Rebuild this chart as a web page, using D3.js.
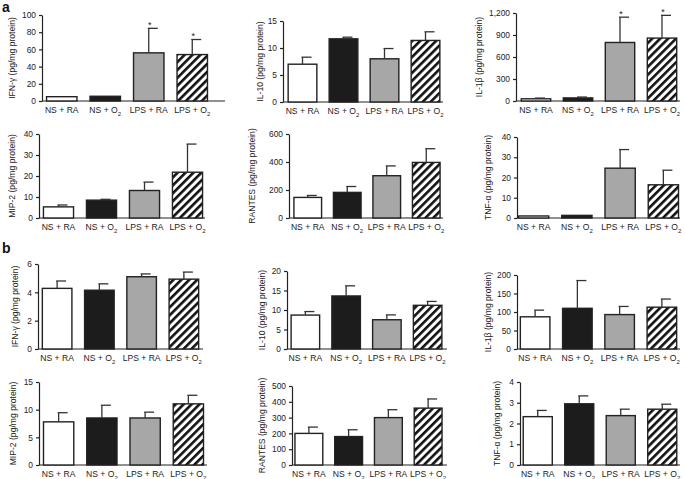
<!DOCTYPE html>
<html><head><meta charset="utf-8">
<script src="https://cdn.jsdelivr.net/npm/d3@7"></script>
<style>
body{margin:0;background:#fff}
svg{display:block;font-family:"Liberation Sans",Arial,Helvetica,sans-serif}
</style>
</head><body>
<svg id="c" width="685" height="479"></svg>
<script>
// ---------- DATA ----------
const categories = ["NS + RA", "NS + O2", "LPS + RA", "LPS + O2"];
const sectionLetters = ["a", "b"];

// Section a
const aIFNg = [5, 5.5, 56, 54];          const aIFNgErr = [0, 0, 28.5, 17.5];
const aIL10 = [7.0, 11.7, 8.0, 11.4];    const aIL10Err = [1.3, 0.3, 1.9, 1.6];
const aIL1b = [30, 42, 798, 858];        const aIL1bErr = [10, 12, 345, 310];
const aMIP2 = [5.3, 8.5, 13.1, 21.8];    const aMIP2Err = [0.9, 0.4, 4.0, 13.4];
const aRANTES = [147, 183, 302, 397];    const aRANTESErr = [14, 42, 70, 98];
const aTNFa = [1.0, 1.3, 24.6, 16.4];    const aTNFaErr = [0, 0, 9.2, 7.2];
// Section b
const bIFNg = [4.28, 4.15, 5.1, 4.93];   const bIFNgErr = [0.52, 0.45, 0.2, 0.5];
const bIL10 = [8.7, 13.6, 7.5, 11.2];    const bIL10Err = [0.9, 2.6, 1.25, 1.0];
const bIL1b = [87, 110, 93, 113];        const bIL1bErr = [18, 75, 22, 22];
const bMIP2 = [7.8, 8.5, 8.5, 11.05];    const bMIP2Err = [1.65, 2.3, 1.05, 1.55];
const bRANTES = [200, 180, 300, 360];    const bRANTESErr = [40, 43, 50, 58];
const bTNFa = [2.33, 2.95, 2.38, 2.69];  const bTNFaErr = [0.3, 0.38, 0.31, 0.24];

// Axis tick values
const ticksIFNgA = [0, 20, 40, 60, 80, 100];
const ticksIL10A = [0, 5, 10, 15];
const ticksIL1bA = [0, 300, 600, 900, 1200];
const ticksMIP2A = [0, 10, 20, 30, 40];
const ticksRANTESA = [0, 200, 400, 600];
const ticksTNFaA = [0, 10, 20, 30, 40];
const ticksIFNgB = [0, 2, 4, 6];
const ticksIL10B = [0, 5, 10, 15, 20];
const ticksIL1bB = [0, 50, 100, 150, 200];
const ticksMIP2B = [0, 5, 10, 15];
const ticksRANTESB = [0, 100, 200, 300, 400, 500];
const ticksTNFaB = [0, 1, 2, 3, 4];

// Significance markers
const starsIFNgA = [0, 0, 1, 1];
const starsIL1bA = [0, 0, 1, 1];
const noStars = [0, 0, 0, 0];

// Axis titles
const labelIFNg = "IFN-γ (pg/mg protein)";
const labelIL10 = "IL-10 (pg/mg protein)";
const labelIL1b = "IL-1β (pg/mg protein)";
const labelMIP2 = "MIP-2 (pg/mg protein)";
const labelRANTES = "RANTES (pg/mg protein)";
const labelTNFa = "TNF-α (pg/mg protein)";

// ---------- LAYOUT (positions only) ----------
const layouts = [
  {ax: 42,  top: 15,  base: 101, band: [40, 214],  xEnd: 225, lx: 12},
  {ax: 283, top: 21,  base: 102, band: [282, 446], xEnd: 443, lx: 260},
  {ax: 516, top: 13,  base: 101, band: [515, 683], xEnd: 680, lx: 479},
  {ax: 39,  top: 134, base: 218, band: [37, 209],  xEnd: 205, lx: 12},
  {ax: 289, top: 134, base: 218, band: [288, 446], xEnd: 443, lx: 252},
  {ax: 517, top: 137, base: 218, band: [512, 685], xEnd: 680, lx: 488},
  {ax: 38,  top: 264, base: 349, band: [36, 205],  xEnd: 203, lx: 15},
  {ax: 287, top: 271, base: 349, band: [285, 448], xEnd: 447, lx: 262},
  {ax: 517, top: 275, base: 349, band: [514, 683], xEnd: 680, lx: 488},
  {ax: 39,  top: 382, base: 465, band: [37, 210],  xEnd: 207, lx: 13},
  {ax: 292, top: 386, base: 465, band: [289, 448], xEnd: 447, lx: 262},
  {ax: 520, top: 382, base: 465, band: [517, 683], xEnd: 680, lx: 497}
];

const panels = [
  {label: labelIFNg,   values: aIFNg,   errors: aIFNgErr,   ticks: ticksIFNgA,   stars: starsIFNgA},
  {label: labelIL10,   values: aIL10,   errors: aIL10Err,   ticks: ticksIL10A,   stars: noStars},
  {label: labelIL1b,   values: aIL1b,   errors: aIL1bErr,   ticks: ticksIL1bA,   stars: starsIL1bA},
  {label: labelMIP2,   values: aMIP2,   errors: aMIP2Err,   ticks: ticksMIP2A,   stars: noStars},
  {label: labelRANTES, values: aRANTES, errors: aRANTESErr, ticks: ticksRANTESA, stars: noStars},
  {label: labelTNFa,   values: aTNFa,   errors: aTNFaErr,   ticks: ticksTNFaA,   stars: noStars},
  {label: labelIFNg,   values: bIFNg,   errors: bIFNgErr,   ticks: ticksIFNgB,   stars: noStars},
  {label: labelIL10,   values: bIL10,   errors: bIL10Err,   ticks: ticksIL10B,   stars: noStars},
  {label: labelIL1b,   values: bIL1b,   errors: bIL1bErr,   ticks: ticksIL1bB,   stars: noStars},
  {label: labelMIP2,   values: bMIP2,   errors: bMIP2Err,   ticks: ticksMIP2B,   stars: noStars},
  {label: labelRANTES, values: bRANTES, errors: bRANTESErr, ticks: ticksRANTESB, stars: noStars},
  {label: labelTNFa,   values: bTNFa,   errors: bTNFaErr,   ticks: ticksTNFaB,   stars: noStars}
];

// ---------- DRAW ----------
const svg = d3.select("#c");
const ink = "#222";
const defs = svg.append("defs");
const pat = defs.append("pattern").attr("id", "hatch")
  .attr("patternUnits", "userSpaceOnUse")
  .attr("width", 5.6).attr("height", 5.6)
  .attr("patternTransform", "rotate(45)");
pat.append("rect").attr("width", 5.6).attr("height", 5.6).attr("fill", "#fff");
pat.append("rect").attr("width", 2.6).attr("height", 5.6).attr("fill", "#111");
const fills = ["#ffffff", "#1c1c1c", "#a7a7a7", "url(#hatch)"];

// section letters
svg.append("text").attr("x", 2).attr("y", 12).attr("font-size", 14).attr("font-weight", "bold").attr("fill", "#111").text(sectionLetters[0]);
svg.append("text").attr("x", 2).attr("y", 253).attr("font-size", 14).attr("font-weight", "bold").attr("fill", "#111").text(sectionLetters[1]);

panels.forEach((p, i) => {
  const L = layouts[i];
  const g = svg.append("g");
  const y = d3.scaleLinear().domain([0, d3.max(p.ticks)]).range([L.base, L.top]);
  const x = d3.scaleBand().domain(categories).range(L.band).paddingInner(0.3).paddingOuter(0.15);
  const bw = x.bandwidth();

  // y axis
  const yAxis = g.append("g").attr("transform", `translate(${L.ax},0)`)
    .call(d3.axisLeft(y).tickValues(p.ticks).tickSize(3).tickSizeOuter(0).tickPadding(3)
      .tickFormat(d3.format(",")));
  yAxis.select(".domain").attr("stroke", ink).attr("stroke-width", 1.2);
  yAxis.selectAll(".tick line").attr("stroke", ink).attr("stroke-width", 1.2);
  yAxis.selectAll(".tick text").attr("font-size", 8.4).attr("fill", "#222")
    .attr("font-family", "Liberation Sans, Arial, sans-serif");

  // x axis baseline
  g.append("line").attr("x1", L.ax).attr("x2", L.xEnd).attr("y1", L.base).attr("y2", L.base)
    .attr("stroke", ink).attr("stroke-width", 1.2);

  // bars
  g.selectAll("rect.bar").data(p.values).join("rect").attr("class", "bar")
    .attr("x", (d, j) => x(categories[j]))
    .attr("y", d => y(d))
    .attr("width", bw)
    .attr("height", d => y(0) - y(d))
    .attr("fill", (d, j) => fills[j])
    .attr("stroke", ink).attr("stroke-width", 1.4);

  // error bars
  p.values.forEach((v, j) => {
    const e = p.errors[j];
    const cx = x(categories[j]) + bw / 2;
    if (e > 0) {
      g.append("line").attr("x1", cx).attr("x2", cx).attr("y1", y(v)).attr("y2", y(v + e))
        .attr("stroke", "#333").attr("stroke-width", 1.3);
      g.append("line").attr("x1", cx - 1).attr("x2", cx + 9).attr("y1", y(v + e)).attr("y2", y(v + e))
        .attr("stroke", "#333").attr("stroke-width", 1.3);
    }
    if (p.stars[j]) {
      g.append("text").attr("x", cx + 1).attr("y", y(v + e) - 0.5).attr("text-anchor", "middle")
        .attr("font-size", 9).attr("fill", "#222").text("*");
    }
  });

  // category labels
  categories.forEach(c => {
    const t = g.append("text").attr("x", x(c) + bw / 2).attr("y", L.base + 12)
      .attr("text-anchor", "middle").attr("font-size", 8.6).attr("fill", "#222");
    if (c.endsWith("O2")) {
      t.append("tspan").text(c.slice(0, -1));
      t.append("tspan").attr("font-size", 6).attr("dy", 2.5).text("2");
    } else {
      t.text(c);
    }
  });

  // y label
  g.append("text").attr("transform", `translate(${L.lx},${(L.top + L.base) / 2}) rotate(-90)`)
    .attr("text-anchor", "middle").attr("dy", "0.35em").attr("font-size", 8.6).attr("fill", "#222")
    .text(p.label);
});
</script>
</body></html>
